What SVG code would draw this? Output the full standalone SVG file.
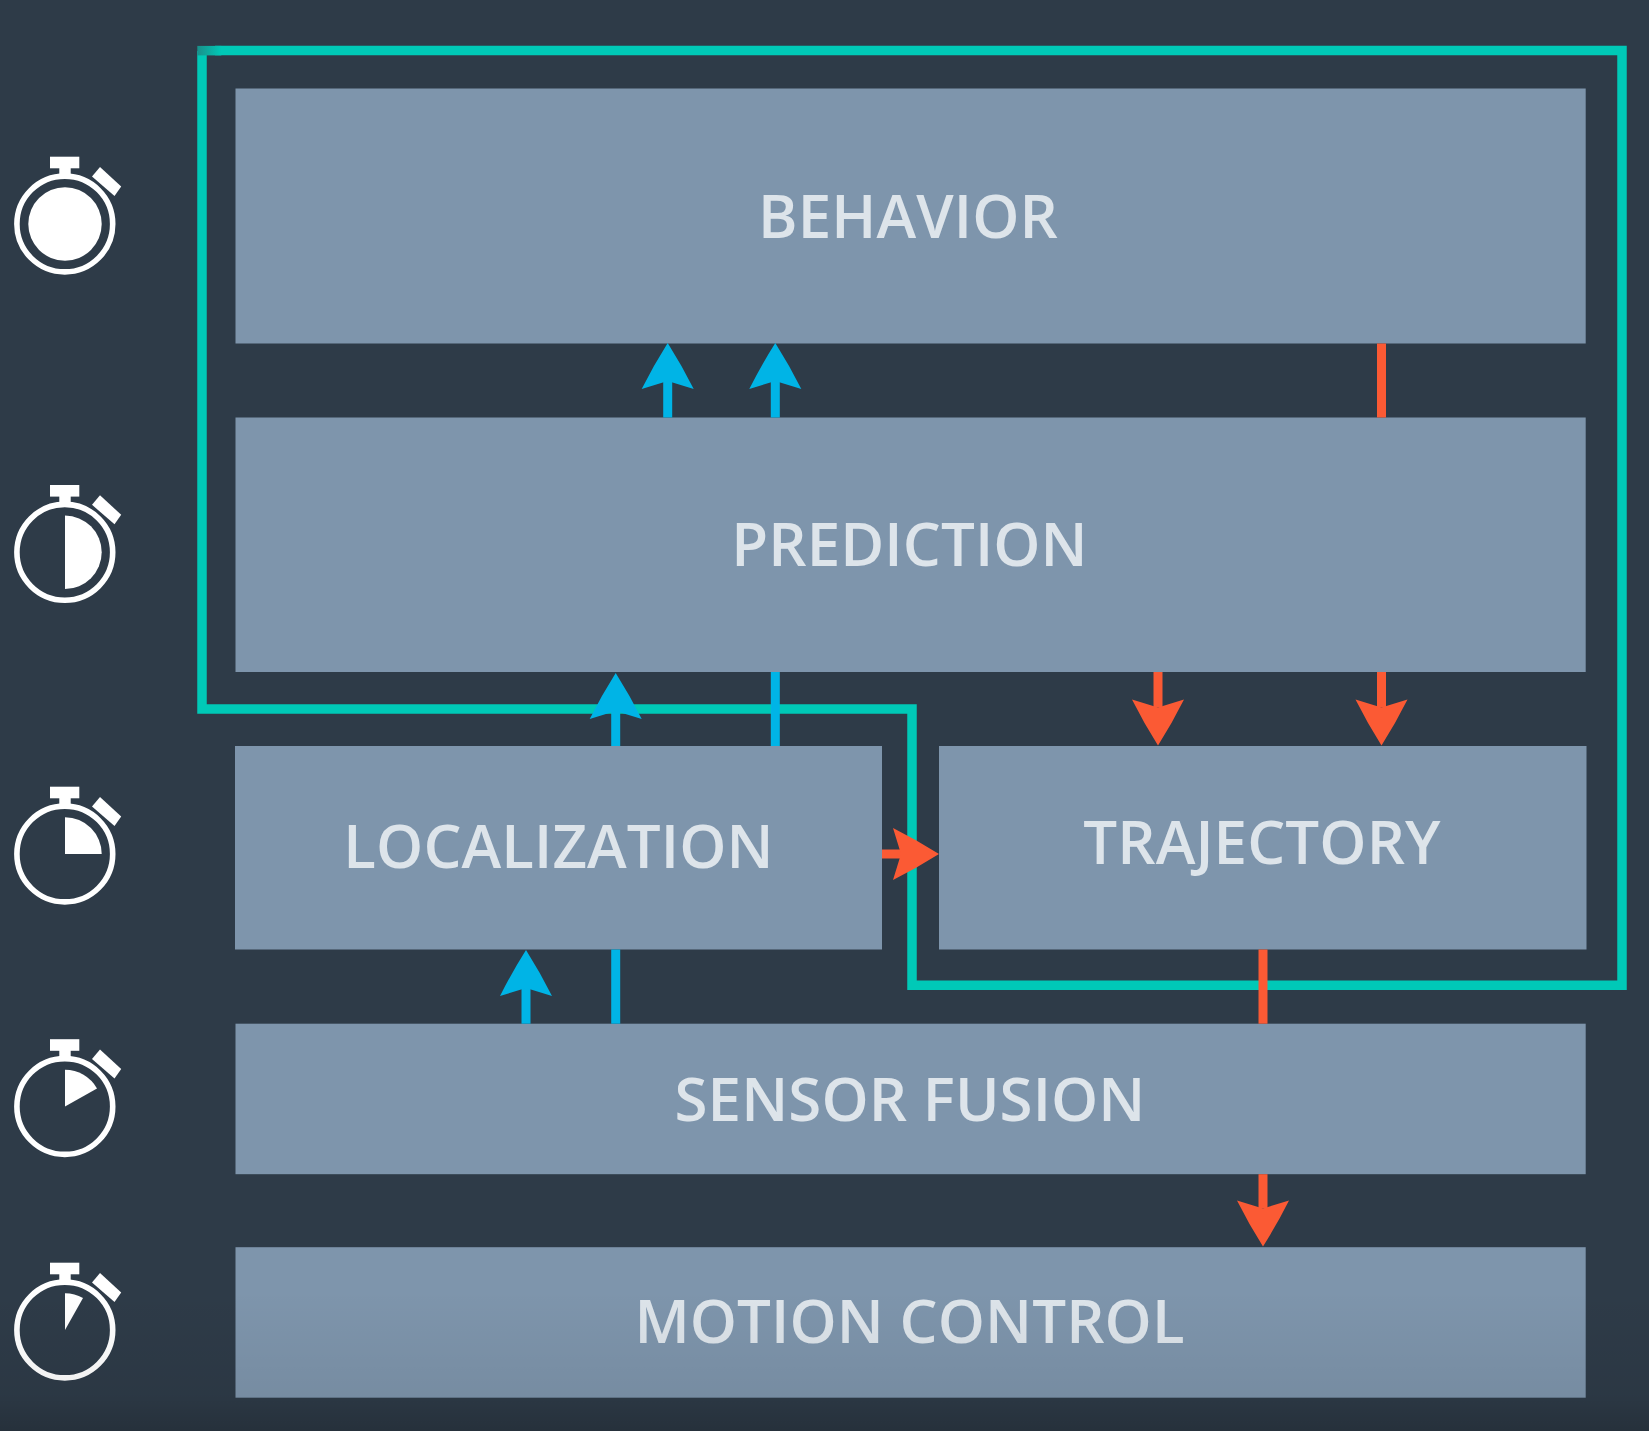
<svg xmlns="http://www.w3.org/2000/svg" width="1649" height="1431" viewBox="0 0 1649 1431">
  <style>
    .box { fill: #7e95ac; }
    .lbl { font-family: "Open Sans", "Noto Sans", sans-serif; font-size: 60px; font-weight: 600; letter-spacing: 0.1px; fill: #dde4ea; text-anchor: middle; }
    .blue { stroke: #00b4e6; stroke-width: 9; fill: none; }
    .red { stroke: #fb5a34; stroke-width: 9; fill: none; }
    .ba { marker-end: url(#ah-blue); }
    .ra { marker-end: url(#ah-red); }
    .ring { fill: none; stroke: #fff; stroke-width: 5.6; }
    .w { fill: #fff; }
  </style>
  <defs>
    <marker id="ah-blue" markerUnits="userSpaceOnUse" markerWidth="46" markerHeight="52" viewBox="0 0 46 52" refX="8" refY="26" orient="auto" overflow="visible">
      <path d="M46 26 Q23 11.5 0 0 L8 26 L0 52 Q23 40.5 46 26Z" fill="#00b4e6"/>
    </marker>
    <marker id="ah-red" markerUnits="userSpaceOnUse" markerWidth="46" markerHeight="52" viewBox="0 0 46 52" refX="8" refY="26" orient="auto" overflow="visible">
      <path d="M46 26 Q23 11.5 0 0 L8 26 L0 52 Q23 40.5 46 26Z" fill="#fb5a34"/>
    </marker>
    <g id="watch">
      <rect class="w" x="50" y="-67.3" width="29.3" height="11.6"/>
      <rect class="w" x="59.3" y="-57" width="11.4" height="9"/>
      <circle class="ring" cx="64.8" cy="0" r="47.9"/>
      <path class="w" d="M100 -57L121.2 -37.5L114.5 -28L92 -47.5Z"/>
    </g>
    <linearGradient id="fade" x1="0" y1="0" x2="0" y2="1">
      <stop offset="0" stop-color="#000" stop-opacity="0"/>
      <stop offset="0.75" stop-color="#000" stop-opacity="0.06"/>
      <stop offset="1" stop-color="#000" stop-opacity="0.18"/>
    </linearGradient>
    <linearGradient id="corner" x1="0" y1="0" x2="1" y2="0">
      <stop offset="0" stop-color="#1a8f8a"/>
      <stop offset="1" stop-color="#00c9b7"/>
    </linearGradient>
  </defs>

  <rect width="1649" height="1431" fill="#2e3b48"/>

  <g id="node-behavior">
    <rect class="box" x="235.5" y="88.5" width="1350.2" height="255"/>
    <text class="lbl" x="908" y="237.5">BEHAVIOR</text>
  </g>
  <g id="node-prediction">
    <rect class="box" x="235.5" y="417.5" width="1350.2" height="254.5"/>
    <text class="lbl" x="909.5" y="566">PREDICTION</text>
  </g>
  <g id="node-localization">
    <rect class="box" x="235" y="746" width="647" height="203.5"/>
    <text class="lbl" x="558.5" y="868">LOCALIZATION</text>
  </g>
  <g id="node-trajectory">
    <rect class="box" x="939" y="746" width="647.5" height="203.5"/>
    <text class="lbl" x="1262" y="863.5">TRAJECTORY</text>
  </g>
  <g id="node-sensor-fusion">
    <rect class="box" x="235.5" y="1023.7" width="1350.2" height="150.5"/>
    <text class="lbl" x="910" y="1120.5">SENSOR FUSION</text>
  </g>
  <g id="node-motion-control">
    <rect class="box" x="235.5" y="1247.2" width="1350.2" height="150.5"/>
    <text class="lbl" x="909.5" y="1343">MOTION CONTROL</text>
  </g>

  <g id="timers">
    <g id="timer-1" transform="translate(0 224)">
      <use href="#watch"/>
      <circle class="w" cx="65" cy="0" r="36.7"/>
    </g>
    <g id="timer-2" transform="translate(0 552.3)">
      <use href="#watch"/>
      <path class="w" d="M65 -36.7A36.7 36.7 0 0 1 65 36.7Z"/>
    </g>
    <g id="timer-3" transform="translate(0 854)">
      <use href="#watch"/>
      <path class="w" d="M65 0V-36.7A36.7 36.7 0 0 1 101.7 0Z"/>
    </g>
    <g id="timer-4" transform="translate(0 1106.5)">
      <use href="#watch"/>
      <path class="w" d="M65 0V-36.7A36.7 36.7 0 0 1 97 -18Z"/>
    </g>
    <g id="timer-5" transform="translate(0 1330)">
      <use href="#watch"/>
      <path class="w" d="M65 0V-36.7A36.7 36.7 0 0 1 83 -32Z"/>
    </g>
  </g>

  <g id="connectors">
    <path id="feedback-loop" d="M202 51V709H912V985.3H1622V50.6H215" fill="none" stroke="#00c9b7" stroke-width="9.5"/>
    <rect x="197.3" y="45.9" width="24" height="9.5" fill="url(#corner)"/>
    <line class="blue ba" x1="667.7" y1="417.5" x2="667.7" y2="381"/>
    <line class="blue ba" x1="775.3" y1="417.5" x2="775.3" y2="381"/>
    <line class="blue ba" x1="615.7" y1="746" x2="615.7" y2="711"/>
    <line class="blue" x1="775.3" y1="672" x2="775.3" y2="746"/>
    <line class="blue ba" x1="526" y1="1023.7" x2="526" y2="988"/>
    <line class="blue" x1="615.7" y1="949.5" x2="615.7" y2="1023.7"/>
    <line class="red" x1="1381.5" y1="343.5" x2="1381.5" y2="417.5"/>
    <line class="red ra" x1="1158" y1="672" x2="1158" y2="707.5"/>
    <line class="red ra" x1="1381.5" y1="672" x2="1381.5" y2="707.5"/>
    <line class="red ra" x1="882" y1="854" x2="901" y2="854"/>
    <line class="red" x1="1263" y1="949.5" x2="1263" y2="1023.7"/>
    <line class="red ra" x1="1263" y1="1174.2" x2="1263" y2="1208.5"/>
  </g>

  <rect id="bottom-fade" x="0" y="1290" width="1649" height="141" fill="url(#fade)"/>
</svg>
